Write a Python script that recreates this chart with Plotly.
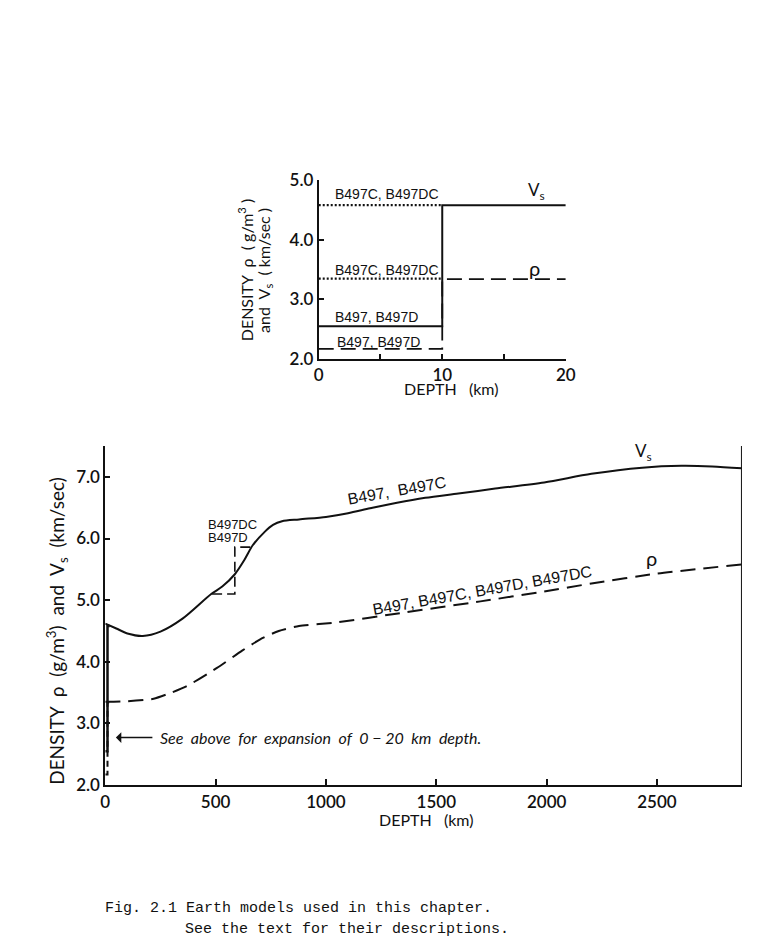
import plotly.graph_objects as go

# ---------------- Data ----------------
# Top panel: 0-20 km expansion
top_depth_step = [0, 10, 10, 20]
top_vs_b497 = [2.55, 2.55, 4.58, 4.58]          # B497, B497D (solid Vs)
top_depth_upper = [0, 10]
top_vs_b497c = [4.58, 4.58]                     # B497C, B497DC (dotted Vs)
top_rho_b497 = [2.17, 2.17, 3.34, 3.34]         # B497, B497D (dashed density)
top_rho_b497c = [3.35, 3.35]                    # B497C, B497DC (dotted density)

# Bottom panel: whole mantle
vs_depth = [0, 50, 100, 170, 250, 350, 480, 530, 587, 630, 668, 720, 760, 801,
            878, 1000, 1100, 1200, 1322, 1450, 1600, 1767, 1989, 2203, 2433, 2611,
            2750, 2885]
vs_vals = [4.62, 4.54, 4.46, 4.42, 4.49, 4.70, 5.10, 5.22, 5.42, 5.65, 5.89, 6.10,
           6.22, 6.28, 6.31, 6.35, 6.41, 6.49, 6.58, 6.66, 6.73, 6.81, 6.91, 7.05,
           7.15, 7.18, 7.17, 7.14]
rho_depth = [0, 100, 219, 300, 367, 506, 620, 700, 786, 878, 1052, 1318, 1700,
             1989, 2203, 2500, 2885]
rho_vals = [3.35, 3.36, 3.40, 3.50, 3.60, 3.90, 4.18, 4.36, 4.50, 4.58, 4.64,
            4.78, 4.98, 5.14, 5.27, 5.43, 5.58]
# B497D / B497DC alternative near 600 km
alt_depth = [484, 587, 587, 676]
alt_vs = [5.10, 5.10, 5.86, 5.86]

depth_max = 2885
top_xticks = [0, 5, 10, 15, 20]
top_xticktext = ["0", "", "10", "", "20"]
top_yticks = [2.0, 3.0, 4.0, 5.0]
bot_xticks = [0, 500, 1000, 1500, 2000, 2500]
bot_yticks = [2.0, 3.0, 4.0, 5.0, 6.0, 7.0]

INK = "#111111"
FONT = "Lato"
LABF = "Liberation Sans"

W, H = 764, 941
def px(x):
    return x / W
def py(y):
    return 1 - y / H

fig = go.Figure()

# ---- top panel traces ----
fig.add_trace(go.Scatter(x=top_depth_upper, y=top_vs_b497c, mode="lines",
                         line=dict(color=INK, width=2.2, dash="2px,2px"),
                         xaxis="x", yaxis="y"))
fig.add_trace(go.Scatter(x=top_depth_upper, y=top_rho_b497c, mode="lines",
                         line=dict(color=INK, width=2.2, dash="2px,2px"),
                         xaxis="x", yaxis="y"))
fig.add_trace(go.Scatter(x=top_depth_step, y=top_rho_b497, mode="lines",
                         line=dict(color=INK, width=1.8, dash="15px,7px"),
                         xaxis="x", yaxis="y"))
fig.add_trace(go.Scatter(x=top_depth_step, y=top_vs_b497, mode="lines",
                         line=dict(color=INK, width=2),
                         xaxis="x", yaxis="y"))

# ---- bottom panel traces ----
# compressed 0-20 km structure at the left edge
fig.add_trace(go.Scatter(x=top_depth_step, y=top_rho_b497, mode="lines",
                         line=dict(color=INK, width=2, dash="6px,4px"),
                         xaxis="x2", yaxis="y2"))
fig.add_trace(go.Scatter(x=top_depth_step, y=top_vs_b497, mode="lines",
                         line=dict(color=INK, width=2.5),
                         xaxis="x2", yaxis="y2"))
fig.add_trace(go.Scatter(x=vs_depth, y=vs_vals, mode="lines",
                         line=dict(color=INK, width=2, shape="spline", smoothing=0.8),
                         xaxis="x2", yaxis="y2"))
fig.add_trace(go.Scatter(x=rho_depth, y=rho_vals, mode="lines",
                         line=dict(color=INK, width=2, dash="15px,8px",
                                   shape="spline", smoothing=0.6),
                         xaxis="x2", yaxis="y2"))
fig.add_trace(go.Scatter(x=alt_depth, y=alt_vs, mode="lines",
                         line=dict(color=INK, width=1.6, dash="10px,5px"),
                         xaxis="x2", yaxis="y2"))

axis_common = dict(showline=True, linecolor=INK, linewidth=2, showgrid=False,
                   zeroline=False, ticks="inside", tickcolor=INK, tickwidth=1.5,
                   tickfont=dict(family=FONT, size=17, color=INK, weight=600))

fig.update_layout(
    width=W, height=H,
    margin=dict(l=0, r=0, t=0, b=0),
    paper_bgcolor="white", plot_bgcolor="white",
    showlegend=False,
    xaxis=dict(axis_common, domain=[px(320), px(572)], range=[0, 20],
               tickvals=top_xticks, ticktext=top_xticktext, ticklen=5,
               anchor="y", ticklabelstandoff=0),
    yaxis=dict(axis_common, domain=[py(356), py(173)], range=[2, 5],
               tickvals=top_yticks, tickformat=".1f", ticklen=5, anchor="x"),
    xaxis2=dict(axis_common, domain=[px(102.3), px(751.7)], range=[0, depth_max],
                tickvals=bot_xticks, ticklen=6, anchor="y2", ticklabelstandoff=1),
    yaxis2=dict(axis_common, domain=[py(791.7), py(445)], range=[2, 7.5],
                tickvals=bot_yticks, tickformat=".1f", ticklen=5, anchor="x2"),
)

# right boundary line of bottom panel
fig.add_shape(type="line", xref="x2", yref="y2 domain", x0=depth_max, x1=depth_max,
              y0=0, y1=1, line=dict(color=INK, width=2))

ann = []
def txt(text, x, y, xref, yref, size=13, family=LABF, xanchor="center",
        yanchor="middle", angle=0):
    ann.append(dict(text=text, x=x, y=y, xref=xref, yref=yref, showarrow=False,
                    font=dict(family=family, size=size, color=INK),
                    xanchor=xanchor, yanchor=yanchor, textangle=angle))

# top panel labels
txt("B497C, B497DC", 1.15, 4.76, "x", "y", size=14, xanchor="left")
txt("B497C, B497DC", 1.15, 3.50, "x", "y", size=14, xanchor="left")
txt("B497, B497D", 1.15, 2.70, "x", "y", size=14, xanchor="left")
txt("B497, B497D", 1.3, 2.28, "x", "y", size=14, xanchor="left")
txt("V<sub>s</sub>", 17.6, 4.82, "x", "y", size=17, family=FONT)
txt("ρ", 17.5, 3.53, "x", "y", size=20, family=FONT)
txt("DEPTH   (km)", px(455), py(386), "paper", "paper", size=16, family=FONT)
txt("DENSITY  ρ  ( g/m<sup>3</sup> )", px(245), py(265), "paper", "paper",
    size=16, family=FONT, angle=-90)
txt("and  V<sub>s</sub>  ( km/sec )", px(264), py(265), "paper", "paper",
    size=16, family=FONT, angle=-90)

# bottom panel labels
txt("V<sub>s</sub>", 2441, 7.40, "x2", "y2", size=17, family=FONT)
txt("ρ", 2477, 5.68, "x2", "y2", size=20, family=FONT)
txt("B497,  B497C", 1323, 6.78, "x2", "y2", size=16, angle=-10)
txt("B497, B497C, B497D, B497DC", 1705, 5.16, "x2", "y2", size=16, angle=-10)
txt("B497DC", 455, 6.23, "x2", "y2", size=13, xanchor="left")
txt("B497D", 455, 6.01, "x2", "y2", size=13, xanchor="left")
txt("<i>See  above  for  expansion  of  0 − 20  km  depth.</i>", 240, 2.77,
    "x2", "y2", size=16, family=FONT, xanchor="left")
txt("DEPTH   (km)", px(430), py(827), "paper", "paper", size=16, family=FONT)
txt("DENSITY  ρ  (g/m<sup>3</sup>)  and  V<sub>s</sub>  (km/sec)", px(53), py(634),
    "paper", "paper", size=19, family=FONT, angle=-90)

# arrow
ann.append(dict(text="", x=48, y=2.77, xref="x2", yref="y2", showarrow=True,
                ax=38, ay=0, arrowhead=1, arrowsize=1.2, arrowwidth=1.5,
                arrowcolor=INK))

# caption
txt("Fig. 2.1 Earth models used in this chapter.", px(100), py(918),
    "paper", "paper", size=15, family="Liberation Mono", xanchor="left")
txt("See the text for their descriptions.", px(182), py(939),
    "paper", "paper", size=15, family="Liberation Mono", xanchor="left")

fig.update_layout(annotations=ann)
fig.write_html("out.html")
